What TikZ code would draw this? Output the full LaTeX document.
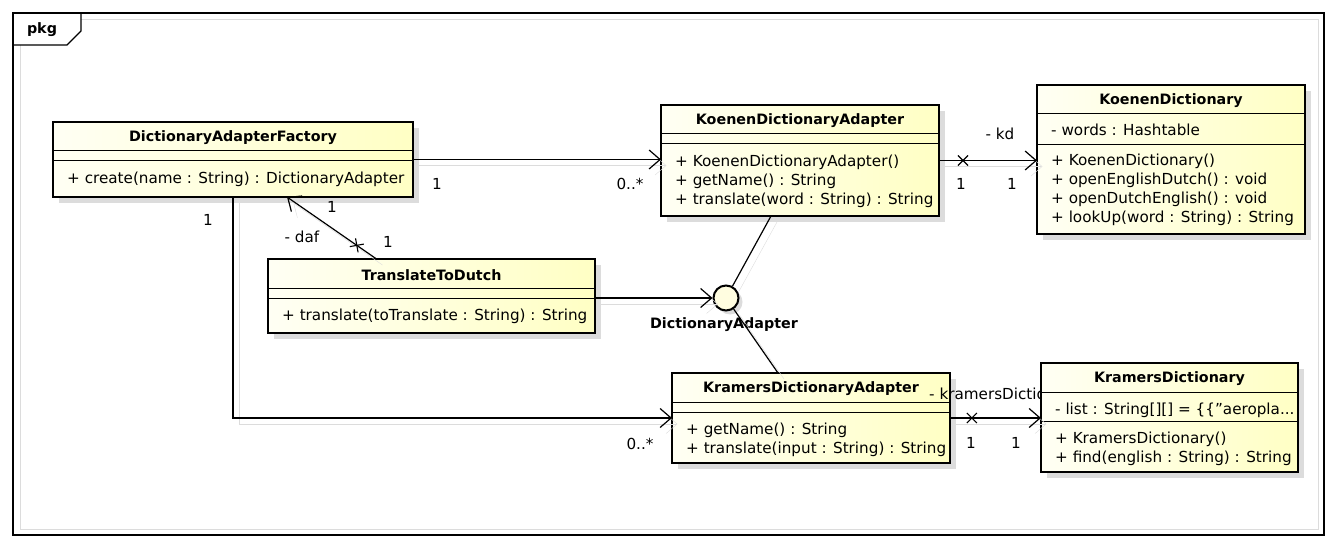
\documentclass[tikz,border=0pt]{standalone}
\usepackage{fontspec}
\setmainfont{DejaVu Sans}
\usetikzlibrary{arrows.meta,shapes.misc,shadows}

\definecolor{clsleft}{HTML}{FFFFF4}
\definecolor{clsright}{HTML}{FFFFC4}
\definecolor{shadowgray}{HTML}{DCDCDC}

\begin{document}
\begin{tikzpicture}[
    x=1pt, y=-1pt,
    every node/.style={inner sep=0pt, font=\fontsize{15.2}{19}\selectfont},
    cls/.style={rectangle, draw=black, line width=2.8pt, outer sep=0pt,
        left color=clsleft, right color=clsright,
        general shadow={fill=shadowgray, shadow xshift=6pt, shadow yshift=-6pt}},
    ttl/.style={font=\fontsize{14.3}{19}\selectfont\bfseries},
    ops/.style={anchor=north west, align=left},
    sep/.style={line width=1pt},
    iface/.style={circle, draw=black, line width=2pt, minimum size=25pt, fill=yellow!12,
        general shadow={fill=shadowgray, shadow xshift=4pt, shadow yshift=-4pt}},
    link/.style={line width=1.2pt, preaction={draw=shadowgray, transform canvas={shift={(6pt,-6pt)}}}},
    assoc/.style={link, -{Straight Barb[length=11pt, width=19pt]}},
    xmark/.style={cross out, draw=black, line width=1.1pt, minimum size=9pt, sloped}
  ]
  \useasboundingbox (0,0) rectangle (1336,548);

  % package frame
  \draw[shadowgray, line width=1pt] (81,20) -- (1318,20) -- (1318,529) -- (20,529) -- (20,45);
  \draw[line width=1.2pt] (13,13) rectangle (1324,535);
  \draw[line width=1.2pt] (13,45) -- (67,45) -- (81,31) -- (81,13);
  \node[ttl] (pkg) at (42,30) {pkg};

  % classes
  \node[cls, minimum width=360pt, minimum height=75pt] (daf) at (233,159.5) {};
  \node[ttl] (dafT) at ([yshift=-16pt]daf.north) {DictionaryAdapterFactory};
  \draw[sep] ([yshift=-29pt]daf.north west) -- ([yshift=-29pt]daf.north east);
  \draw[sep] ([yshift=-39pt]daf.north west) -- ([yshift=-39pt]daf.north east);
  \node[ops] (dafO) at ([xshift=14pt, yshift=-50pt]daf.north west) {+ create(name : String) : DictionaryAdapter};

  \node[cls, minimum width=278pt, minimum height=111pt] (kda) at (800,160.5) {};
  \node[ttl] (kdaT) at ([yshift=-16pt]kda.north) {KoenenDictionaryAdapter};
  \draw[sep] ([yshift=-29pt]kda.north west) -- ([yshift=-29pt]kda.north east);
  \draw[sep] ([yshift=-39pt]kda.north west) -- ([yshift=-39pt]kda.north east);
  \node[ops] (kdaO) at ([xshift=14pt, yshift=-50pt]kda.north west)
    {+ KoenenDictionaryAdapter()\\+ getName() : String\\+ translate(word : String) : String};

  \node[cls, minimum width=268pt, minimum height=149pt] (kd) at (1171,159.5) {};
  \node[ttl] (kdT) at ([yshift=-16pt]kd.north) {KoenenDictionary};
  \draw[sep] ([yshift=-29pt]kd.north west) -- ([yshift=-29pt]kd.north east);
  \node[ops] (kdA) at ([xshift=14pt, yshift=-39pt]kd.north west) {- words : Hashtable};
  \draw[sep] ([yshift=-60pt]kd.north west) -- ([yshift=-60pt]kd.north east);
  \node[ops] (kdO) at ([xshift=14pt, yshift=-69pt]kd.north west)
    {+ KoenenDictionary()\\+ openEnglishDutch() : void\\+ openDutchEnglish() : void\\+ lookUp(word : String) : String};

  \node[cls, minimum width=327pt, minimum height=74pt] (ttd) at (431.5,296) {};
  \node[ttl] (ttdT) at ([yshift=-16pt]ttd.north) {TranslateToDutch};
  \draw[sep] ([yshift=-29pt]ttd.north west) -- ([yshift=-29pt]ttd.north east);
  \draw[sep] ([yshift=-39pt]ttd.north west) -- ([yshift=-39pt]ttd.north east);
  \node[ops] (ttdO) at ([xshift=14pt, yshift=-50pt]ttd.north west) {+ translate(toTranslate : String) : String};

  \node[cls, minimum width=278pt, minimum height=90pt] (krda) at (811,418) {};
  \node[ttl] (krdaT) at ([yshift=-16pt]krda.north) {KramersDictionaryAdapter};
  \draw[sep] ([yshift=-29pt]krda.north west) -- ([yshift=-29pt]krda.north east);
  \draw[sep] ([yshift=-39pt]krda.north west) -- ([yshift=-39pt]krda.north east);
  \node[ops] (krdaO) at ([xshift=14pt, yshift=-50pt]krda.north west)
    {+ getName() : String\\+ translate(input : String) : String};

  \node[anchor=west] (rkr) at (929,395) {- kramersDictionary};

  \node[cls, minimum width=257pt, minimum height=109pt] (krd) at (1169.5,417.5) {};
  \node[ttl] (krdT) at ([yshift=-16pt]krd.north) {KramersDictionary};
  \draw[sep] ([yshift=-29pt]krd.north west) -- ([yshift=-29pt]krd.north east);
  \node[ops] (krdA) at ([xshift=14pt, yshift=-40pt]krd.north west) {- list : String[][] = \{\{\symbol{34}aeropla...};
  \draw[sep] ([yshift=-58pt]krd.north west) -- ([yshift=-58pt]krd.north east);
  \node[ops] (krdO) at ([xshift=14pt, yshift=-69pt]krd.north west)
    {+ KramersDictionary()\\+ find(english : String) : String};

  % interface
  \node[iface] (da) at (726,298) {};
  \node[ttl] (daT) at (724,325) {DictionaryAdapter};

  % connectors
  \draw[assoc] (daf.east) -- (kda.west |- daf.east);
  \draw[assoc] (daf.south) |- (krda.west);
  \draw[assoc] ([xshift=-55pt]ttd.north) -- ([xshift=54pt]daf.south) node[xmark, pos=0.22] (xd) {};
  \draw[assoc] (ttd.east |- da) -- (da.west);
  \draw[link] (da) -- ([xshift=-29pt]kda.south);
  \draw[link] (da) -- ([xshift=-33pt]krda.north);
  \draw[assoc] (kda.east) -- (kd.west |- kda.east) node[xmark, pos=0.245] (xk) {};
  \draw[assoc] (krda.east) -- (krd.west |- krda.east) node[xmark, pos=0.24] (xr) {};

  % multiplicities and roles
  \node (m1) at (437,184) {1};
  \node (m2) at (630,184) {0..*};
  \node (m3) at (208,220) {1};
  \node (m4) at (640,444) {0..*};
  \node (m5) at (332,207) {1};
  \node (m6) at (302,237) {- daf};
  \node (m7) at (388,242) {1};
  \node (m8) at (1000,134) {- kd};
  \node (m9) at (961,184) {1};
  \node (m10) at (1012,184) {1};
  \node (m11) at (971,443) {1};
  \node (m12) at (1016,443) {1};
\end{tikzpicture}
\end{document}
